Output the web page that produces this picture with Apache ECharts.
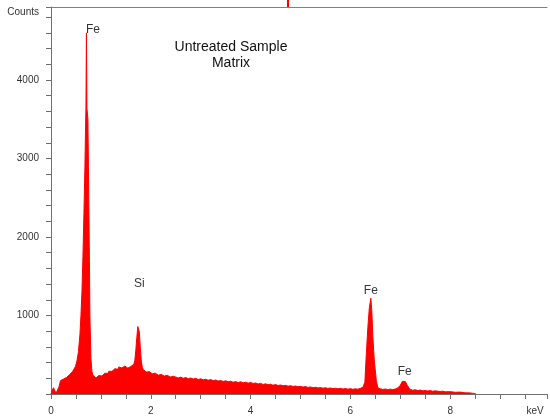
<!DOCTYPE html>
<html>
<head>
<meta charset="utf-8">
<script type="text/javascript" src="https://cdn.jsdelivr.net/npm/echarts@6/dist/echarts.min.js"></script>
<style>
  html, body { margin: 0; padding: 0; background: #fff; }
  #chart-eds { width: 550px; height: 419px; }
</style>
</head>
<body>
<div id="chart-eds"></div>
<script>
// 能谱数据 (keV / counts)
var energy = [
  0.00, 0.02, 0.05, 0.08, 0.10, 0.13, 0.16, 0.19, 0.22, 0.25, 0.28, 0.31, 0.34, 0.37, 0.40,
  0.43, 0.46, 0.49, 0.52, 0.55, 0.58, 0.60, 0.62, 0.64, 0.66, 0.68, 0.69, 0.70, 0.71, 0.72,
  0.74, 0.75, 0.76, 0.77, 0.78, 0.80, 0.82, 0.84, 0.86, 0.88, 0.90, 0.92, 0.94, 0.96, 0.98,
  1.00, 1.02, 1.04, 1.06, 1.08, 1.10, 1.12, 1.14, 1.16, 1.18, 1.20, 1.22, 1.24, 1.26, 1.28,
  1.30, 1.32, 1.34, 1.36, 1.38, 1.40, 1.42, 1.44, 1.46, 1.48, 1.50, 1.52, 1.54, 1.56, 1.58,
  1.60, 1.62, 1.64, 1.66, 1.68, 1.70, 1.72, 1.74, 1.755, 1.77, 1.79, 1.81, 1.83, 1.85, 1.87,
  1.89, 1.91, 1.93, 1.95, 1.97, 1.99, 2.01, 2.03, 2.05, 2.07, 2.09, 2.11, 2.13, 2.15, 2.17,
  2.19, 2.21, 2.23, 2.25, 2.27, 2.29, 2.31, 2.33, 2.35, 2.37, 2.39, 2.41, 2.43, 2.45, 2.47,
  2.49, 2.55, 2.60, 2.65, 2.70, 2.75, 2.80, 2.85, 2.90, 2.95, 3.00, 3.05, 3.10, 3.15, 3.20,
  3.25, 3.30, 3.35, 3.40, 3.45, 3.50, 3.55, 3.60, 3.65, 3.70, 3.75, 3.80, 3.85, 3.90, 3.95,
  4.00, 4.05, 4.10, 4.15, 4.20, 4.25, 4.30, 4.35, 4.40, 4.45, 4.50, 4.55, 4.60, 4.65, 4.70,
  4.75, 4.80, 4.85, 4.90, 4.95, 5.00, 5.05, 5.10, 5.15, 5.20, 5.25, 5.30, 5.35, 5.40, 5.45,
  5.50, 5.55, 5.60, 5.65, 5.70, 5.75, 5.80, 5.85, 5.90, 5.95, 6.00, 6.05, 6.10, 6.15, 6.20,
  6.25, 6.29, 6.32, 6.35, 6.38, 6.41, 6.43, 6.45, 6.48, 6.52, 6.55, 6.60, 6.65, 6.70, 6.75,
  6.80, 6.85, 6.90, 6.95, 7.00, 7.04, 7.07, 7.10, 7.14, 7.19, 7.25, 7.30, 7.35, 7.40, 7.45,
  7.50, 7.55, 7.60, 7.65, 7.70, 7.80, 7.85, 7.90, 8.00, 8.10, 8.20, 8.30, 8.40, 8.48, 8.52
];
var counts = [
  0, 40, 80, 60, 10, 20, 90, 170, 145, 190, 165, 210, 190, 245, 225,
  285, 300, 350, 420, 540, 760, 1000, 1300, 1750, 2300, 2900, 3300, 3640, 4600, 3640,
  3500, 2900, 2300, 1700, 1000, 450, 290, 240, 215, 225, 205, 230, 210, 235, 225,
  245, 230, 255, 240, 265, 250, 275, 262, 290, 275, 300, 288, 310, 296, 322,
  305, 330, 315, 345, 325, 350, 332, 348, 335, 355, 338, 350, 330, 345, 328,
  350, 335, 360, 380, 430, 560, 720, 860, 880, 790, 590, 420, 340, 310, 295,
  305, 280, 292, 270, 285, 262, 278, 258, 270, 250, 265, 245, 258, 240, 255,
  236, 250, 232, 246, 228, 240, 225, 238, 220, 232, 216, 230, 212, 226, 210,
  222, 205, 215, 200, 210, 195, 205, 190, 200, 184, 194, 180, 188, 175, 184,
  170, 178, 165, 172, 160, 168, 155, 163, 150, 158, 146, 155, 142, 150, 138,
  148, 135, 140, 128, 135, 122, 130, 118, 124, 112, 120, 108, 115, 104, 110,
  100, 106, 96, 102, 92, 98, 88, 94, 84, 90, 80, 86, 77, 82, 74,
  80, 71, 77, 68, 74, 66, 72, 63, 70, 62, 68, 60, 66, 62, 72,
  85, 150, 520, 850, 1100, 1220, 1050, 730, 420, 170, 80, 66, 58, 64, 55,
  62, 56, 64, 78, 110, 160, 180, 160, 110, 62, 48, 54, 44, 50, 40,
  46, 38, 43, 35, 40, 32, 36, 28, 30, 22, 24, 15, 14, 6, 0
];

// 峰标注
var peakNames = ['Fe', 'Si', 'Fe', 'Fe'];
var peakEnergy = [0.84, 1.77, 6.41, 7.09];
var peakCounts = [4636, 1409, 1320, 287];

var chartEds = echarts.init(document.getElementById('chart-eds'));

var spectrum = [];
for (var i = 0; i < energy.length; i++) {
  spectrum.push([energy[i], counts[i]]);
}
var peaks = [];
for (var j = 0; j < peakNames.length; j++) {
  peaks.push([peakEnergy[j], peakCounts[j], peakNames[j]]);
}

var font = 'Liberation Sans';

var option = {
  animation: false,
  title: {
    text: 'Untreated Sample\nMatrix',
    left: 226,
    top: 34,
    textAlign: 'center',
    textStyle: {
      fontFamily: font,
      fontSize: 14,
      fontWeight: 'normal',
      color: '#111',
      lineHeight: 16
    }
  },
  grid: {
    left: 51,
    right: 0,
    top: 7,
    bottom: 25
  },
  xAxis: [
    {
      type: 'value',
      min: 0,
      max: 9.94,
      interval: 0.5,
      name: 'keV',
      nameLocation: 'end',
      nameGap: -12,
      nameTextStyle: {
        fontFamily: font,
        fontSize: 10,
        color: '#333',
        align: 'center',
        verticalAlign: 'top',
        padding: [12, 0, 0, 0]
      },
      splitLine: { show: false },
      axisLine: { lineStyle: { color: '#707070', width: 1 } },
      axisTick: { length: 5, lineStyle: { color: '#707070' } },
      axisLabel: {
        margin: 12,
        fontFamily: font,
        fontSize: 10,
        color: '#333',
        formatter: function (v) {
          return (v % 2 === 0) ? String(v) : '';
        }
      }
    },
    {
      // 上边框
      type: 'value',
      position: 'top',
      min: 0,
      max: 9.94,
      splitLine: { show: false },
      axisLine: { show: true, lineStyle: { color: '#808080', width: 1 } },
      axisTick: { show: false },
      axisLabel: { show: false }
    }
  ],
  yAxis: {
    type: 'value',
    min: 0,
    max: 4930,
    interval: 200,
    name: 'Counts',
    nameLocation: 'end',
    nameGap: -5,
    nameTextStyle: {
      fontFamily: font,
      fontSize: 10,
      color: '#333',
      align: 'right',
      verticalAlign: 'middle',
      padding: [0, 12, 0, 0]
    },
    splitLine: { show: false },
    axisLine: { show: true, lineStyle: { color: '#707070', width: 1 } },
    axisTick: { show: true, length: 5, lineStyle: { color: '#707070' } },
    axisLabel: {
      margin: 12,
      fontFamily: font,
      fontSize: 10,
      color: '#333',
      formatter: function (v) {
        return (v > 0 && v % 1000 === 0) ? String(v) : '';
      }
    }
  },
  series: [
    {
      name: 'spectrum',
      type: 'line',
      data: spectrum,
      showSymbol: false,
      smooth: false,
      lineStyle: { color: '#ff0000', width: 1 },
      areaStyle: { color: '#ff0000', opacity: 1 },
      z: 2
    },
    {
      name: 'peaks',
      type: 'scatter',
      data: peaks,
      symbolSize: 0,
      label: {
        show: true,
        position: 'inside',
        formatter: function (p) { return p.data[2]; },
        fontFamily: font,
        fontSize: 12,
        color: '#000'
      },
      z: 3
    }
  ],
  graphic: [
    {
      type: 'line',
      shape: { x1: 288, y1: 0, x2: 288, y2: 7 },
      style: { stroke: '#ff0000', lineWidth: 2 }
    }
  ]
};
chartEds.setOption(option);
</script>
</body>
</html>
